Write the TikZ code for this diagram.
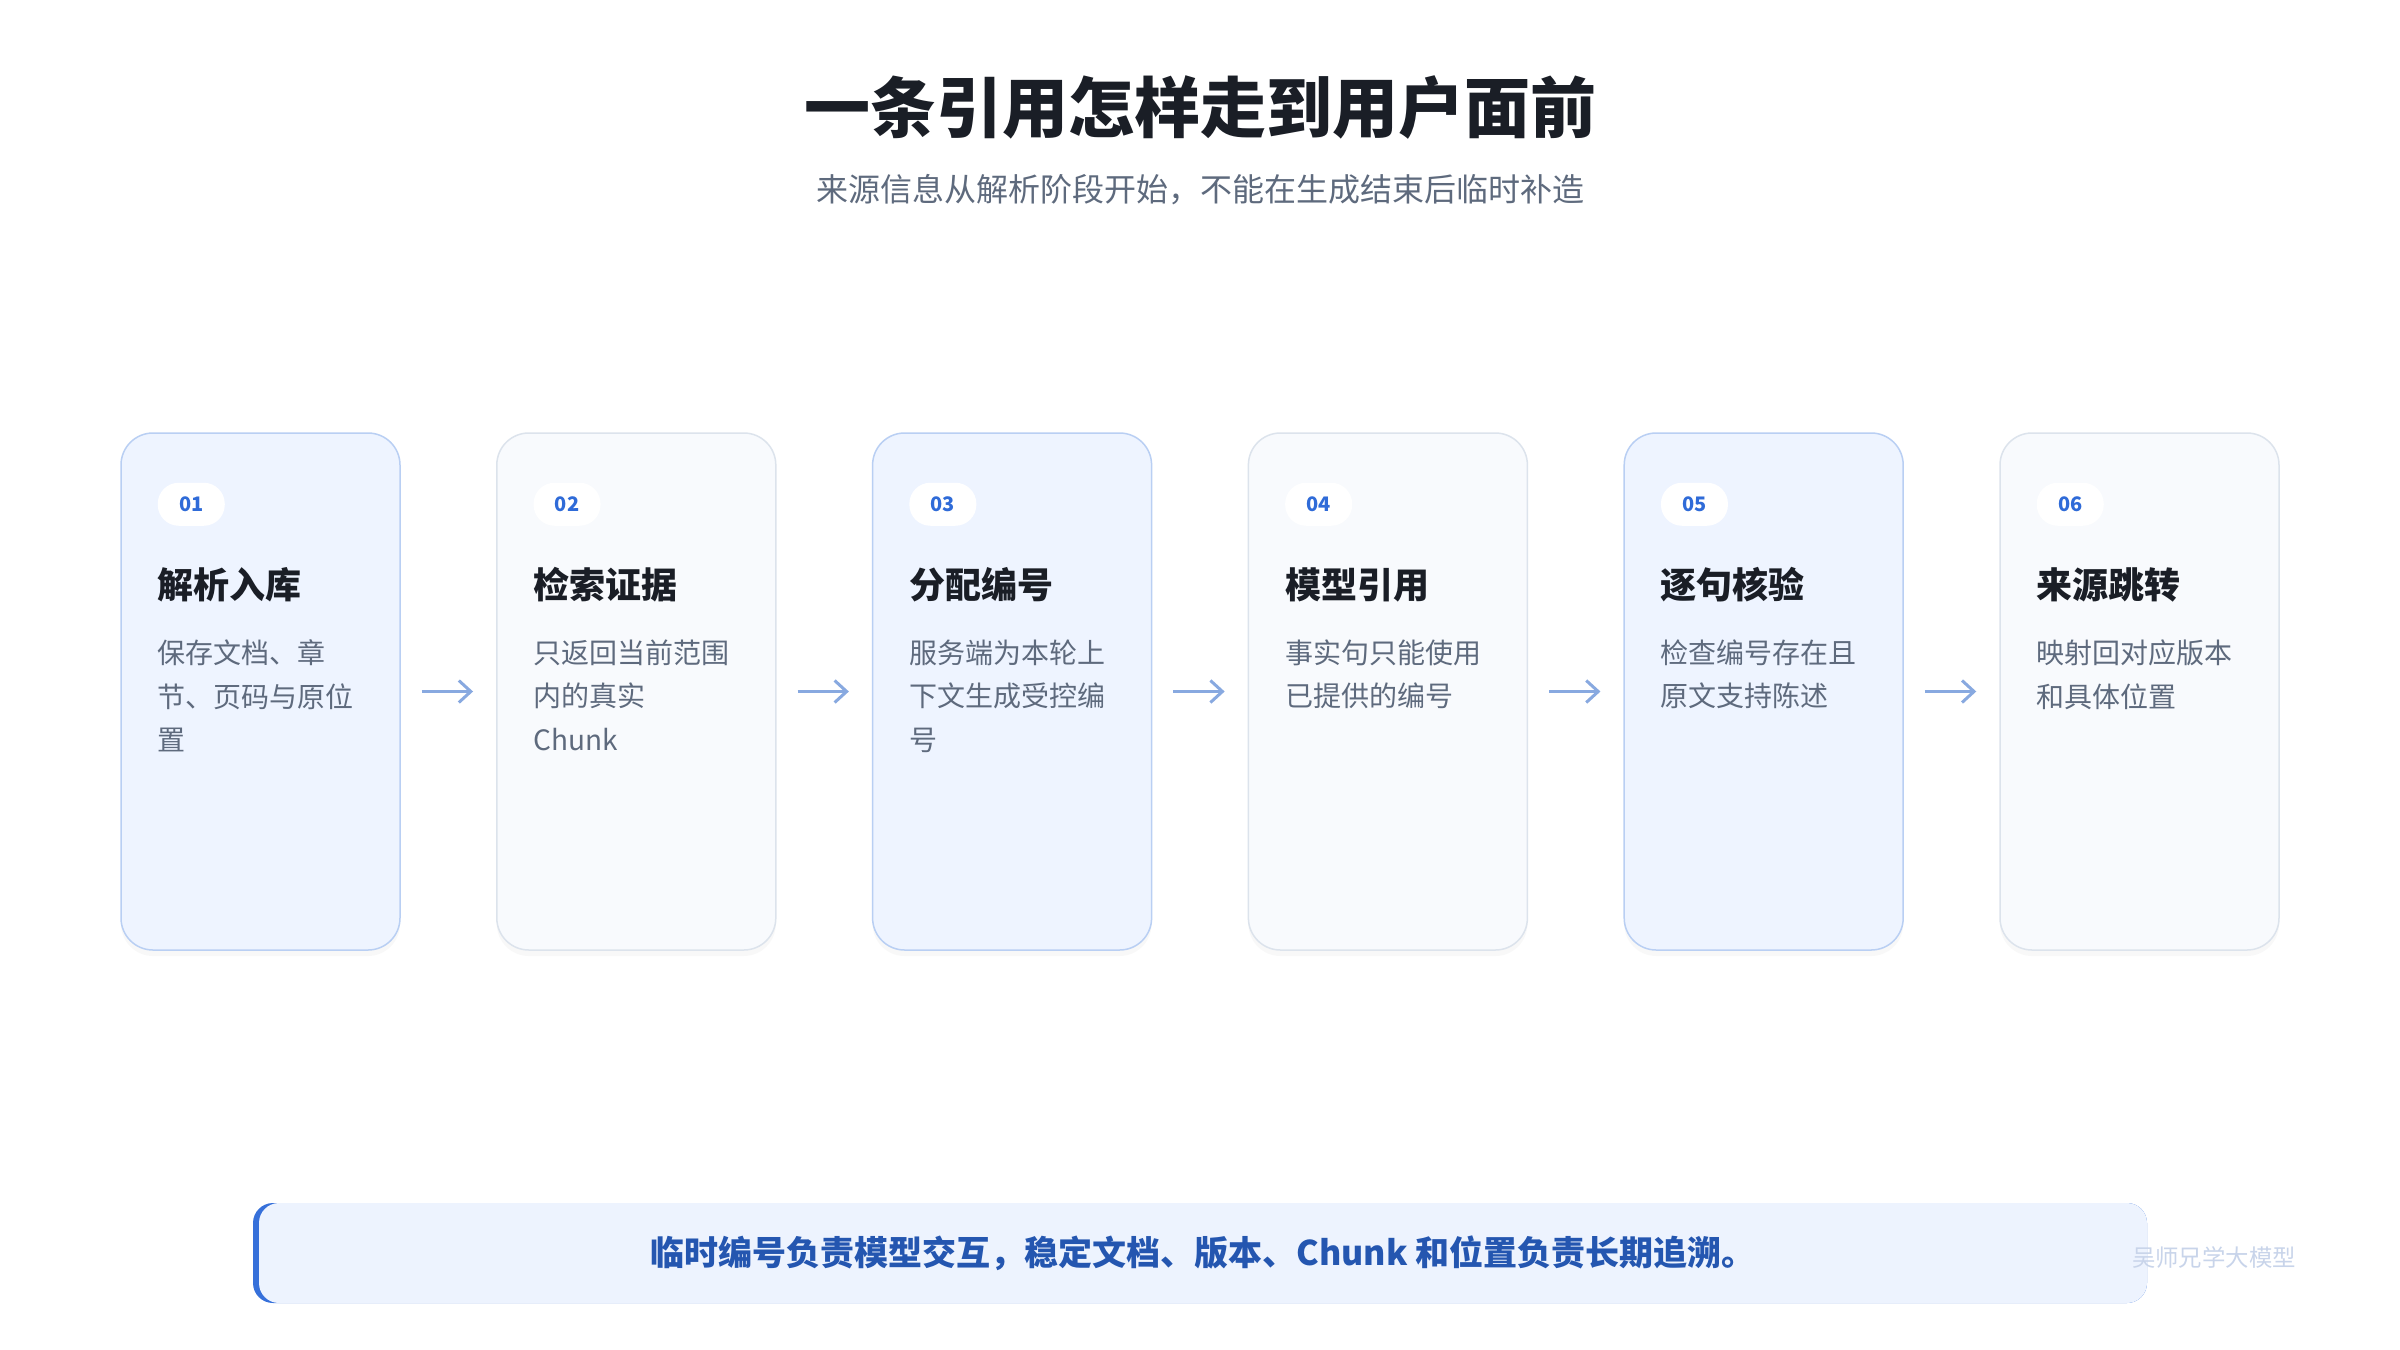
\documentclass[tikz,border=0pt]{standalone}
\usepackage{fontspec}
\setmainfont{Noto Sans CJK SC}
\usetikzlibrary{arrows.meta,positioning,calc,shadows}
\definecolor{cardblue}{HTML}{EEF4FF}
\definecolor{cardblueline}{HTML}{B9CFF3}
\definecolor{cardgray}{HTML}{F8FAFD}
\definecolor{cardgrayline}{HTML}{DCE3EC}
\definecolor{badgetext}{HTML}{2F6BD8}
\definecolor{headtext}{HTML}{1A1E26}
\definecolor{desctext}{HTML}{5E6A7D}
\definecolor{flowline}{HTML}{88A9E0}
\definecolor{notefill}{HTML}{EDF3FE}
\definecolor{accent}{HTML}{3670DA}
\definecolor{notetext}{HTML}{2456B0}
\definecolor{marktext}{HTML}{C8D4EA}

\begin{document}
\begin{tikzpicture}[x=0.5pt,y=-0.5pt,
  card/.style={draw,line width=0.75pt,rounded corners=16pt,minimum width=139.5pt,minimum height=258.5pt,inner sep=0pt,
    drop shadow={opacity=0.05,shadow xshift=0pt,shadow yshift=-3pt}},
  bluecard/.style={card,draw=cardblueline,fill=cardblue},
  graycard/.style={card,draw=cardgrayline,fill=cardgray},
  badge/.style={fill=white,rounded corners=10.5pt,minimum width=33.5pt,minimum height=21.5pt,inner sep=0pt,
    font=\fontsize{10}{12}\selectfont\bfseries,text=badgetext},
  head/.style={anchor=base west,inner sep=0pt,font=\fontsize{18}{22}\selectfont\bfseries,text=headtext},
  desc/.style={anchor=north west,inner sep=0pt,align=left,font=\fontsize{14}{21.8}\selectfont,text=desctext},
  flow/.style={-{Straight Barb[length=6pt,width=11pt]},line width=1.5pt,draw=flowline,shorten <=10.5pt,shorten >=11.5pt}]
\fill[white] (0,0) rectangle (2400,1350);
\useasboundingbox (0,0) rectangle (2400,1350);
% title
\node[font=\fontsize{33}{40}\selectfont\bfseries,text=headtext] (title) at (1200,108) {一条引用怎样走到用户面前};
\node[font=\fontsize{16}{20}\selectfont,text=desctext] (subtitle) at (1200,190) {来源信息从解析阶段开始，不能在生成结束后临时补造};
% steps
\foreach \i/\sty/\head/\body in {
  1/bluecard/解析入库/{保存文档、章\\节、页码与原位\\置},
  2/graycard/检索证据/{只返回当前范围\\内的真实\\Chunk},
  3/bluecard/分配编号/{服务端为本轮上\\下文生成受控编\\号},
  4/graycard/模型引用/{事实句只能使用\\已提供的编号},
  5/bluecard/逐句核验/{检查编号存在且\\原文支持陈述},
  6/graycard/来源跳转/{映射回对应版本\\和具体位置}}{
  \node[\sty] (card\i) at ({260.5+(\i-1)*375.8},691.5) {};
  \node[badge] (num\i) at ($(card\i.north west)+(71,72)$) {0\i};
  \node[head] (head\i) at ($(card\i.north west)+(37,166)$) {\head};
  \node[desc] (desc\i) at ($(card\i.north west)+(37,207)$) {\body};
}
\foreach \i in {1,...,5}{
  \pgfmathtruncatemacro\j{\i+1}
  \draw[flow] (card\i) -- (card\j);
}
% bottom note
\node[fill=accent,rounded corners=10pt,minimum width=947pt,minimum height=50pt,inner sep=0pt] (bar) at (1200,1253) {};
\node[fill=notefill,rounded corners=10pt,minimum width=944pt,minimum height=50pt,inner sep=0pt,
  font=\fontsize{17}{20}\selectfont\bfseries,text=notetext] (note) at (1203,1253) {临时编号负责模型交互，稳定文档、版本、Chunk 和位置负责长期追溯。};
\node[font=\fontsize{11.7}{14}\selectfont,text=marktext] (mark) at (2214,1257) {吴师兄学大模型};
\end{tikzpicture}
\end{document}
